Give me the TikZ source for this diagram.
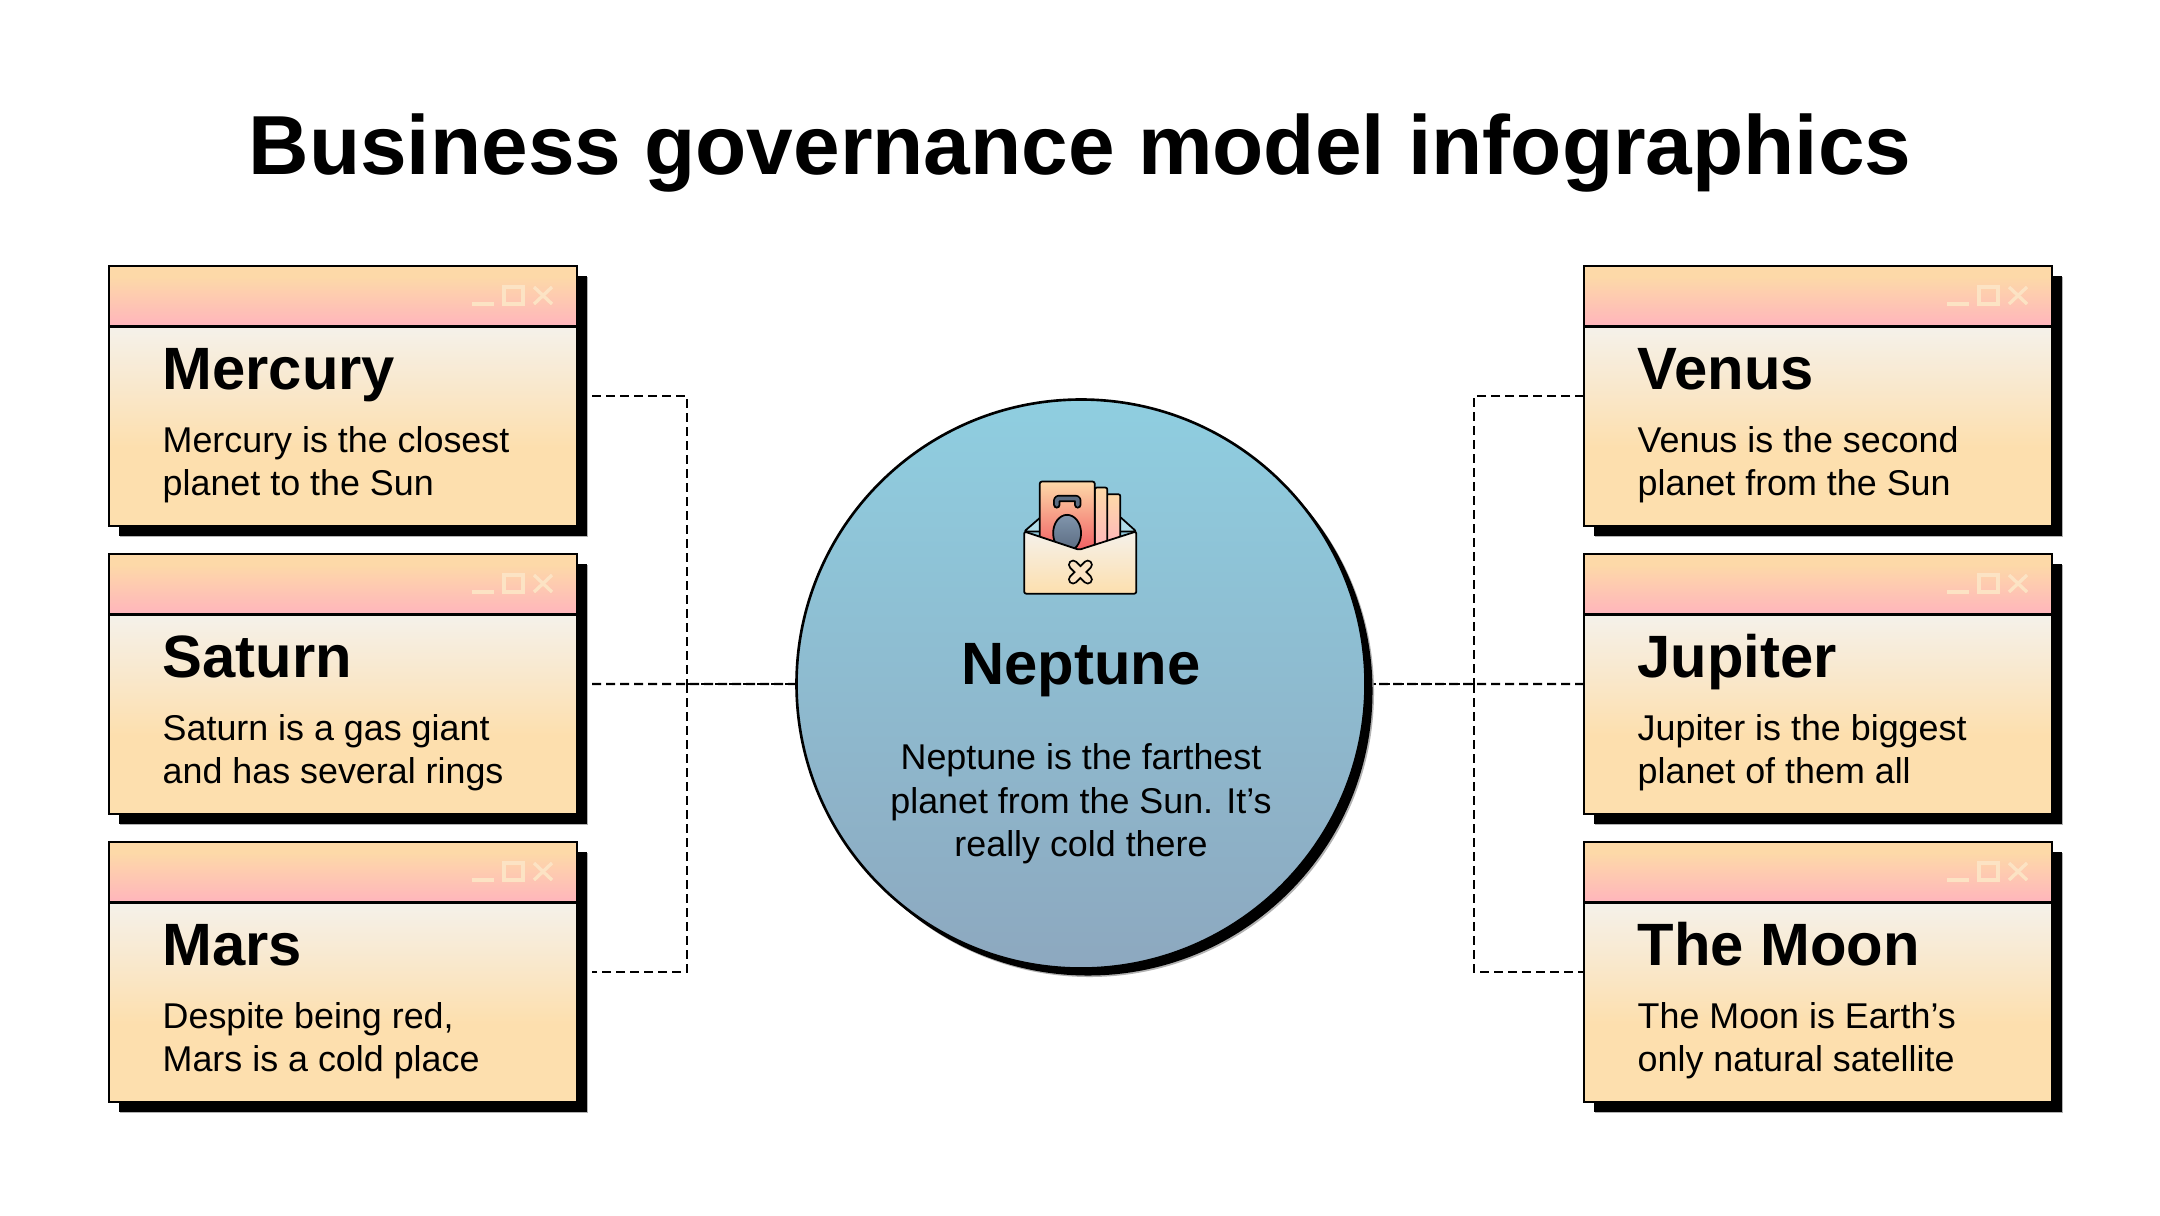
\documentclass[tikz,border=0pt]{standalone}
\usepackage{fontspec}
\setmainfont{Liberation Sans}
\usetikzlibrary{positioning,shadows}

\definecolor{sand}{HTML}{FDDFAE}
\definecolor{cream}{HTML}{F5F1EA}
\definecolor{peach}{HTML}{FDD9A8}
\definecolor{rose}{HTML}{FFB5BC}
\definecolor{coral}{HTML}{F0575F}
\definecolor{skytop}{HTML}{8FCEE0}
\definecolor{skybottom}{HTML}{8DA8BF}
\definecolor{slate}{HTML}{5A6A80}
\definecolor{slatelight}{HTML}{8095AC}
\definecolor{winmark}{HTML}{FCE3C4}

% title bar and body of a window in one vertical shading
\pgfdeclareverticalshading{windowshade}{100bp}{
    color(0bp)=(sand); color(25bp)=(sand); color(40bp)=(sand);
    color(63.35bp)=(cream); color(63.4bp)=(rose);
    color(73bp)=(peach); color(100bp)=(peach)}

\begin{document}
\begin{tikzpicture}[
    windowbox/.style={rectangle, draw=black, line width=0.75pt, minimum width=4.68cm, minimum height=2.6cm,
        inner sep=0pt, outer sep=0pt, shading=windowshade,
        general shadow={fill=black!30, shadow xshift=0.11cm, shadow yshift=-0.11cm},
        general shadow={fill=black, shadow xshift=0.095cm, shadow yshift=-0.095cm}},
    globe/.style={circle, draw=black, line width=0.75pt, minimum size=5.69cm, inner sep=0pt, outer sep=0pt,
        top color=skytop, bottom color=skybottom,
        general shadow={fill=black!30, shadow xshift=0.085cm, shadow yshift=-0.085cm},
        general shadow={fill=black, shadow xshift=0.07cm, shadow yshift=-0.07cm}},
    headline/.style={font=\fontsize{23.85}{28}\selectfont\bfseries, inner sep=0pt},
    planetname/.style={font=\fontsize{17}{20}\selectfont\bfseries, inner sep=0pt, text height=0.44cm, text depth=0.13cm},
    planettext/.style={font=\fontsize{10.2}{12.35}\selectfont, inner sep=0pt, align=left, execute at begin node=\strut},
    barline/.style={black, line width=0.75pt},
    winmarks/.style={winmark, line width=0.95pt},
    link/.style={black, line width=0.62pt, dash pattern=on 0.09cm off 0.05cm}
]
    \useasboundingbox (0,0) rectangle (21.6,-12.15);

    \node[headline, anchor=base] (headline) at (10.8,-1.74) {Business governance model infographics};

    % left column
    \node[windowbox, anchor=north west] (mercury) at (1.09,-2.66) {};
    \node[windowbox, below=0.28cm of mercury] (saturn) {};
    \node[windowbox, below=0.28cm of saturn] (mars) {};

    % right column
    \node[windowbox, anchor=north west] (venus) at (15.84,-2.66) {};
    \node[windowbox, below=0.28cm of venus] (jupiter) {};
    \node[windowbox, below=0.28cm of jupiter] (moon) {};

    \node[globe] (neptune) at (10.81,-6.84) {};

    % title bar line and the three window marks
    \foreach \planet in {mercury,saturn,mars,venus,jupiter,moon} {
        \draw[barline] ([yshift=-0.605cm]\planet.north west) -- ([yshift=-0.605cm]\planet.north east);
        \draw[winmarks] ([shift={(-1.05,-0.38)}]\planet.north east) -- ++(0.22,0);
        \draw[winmarks] ([shift={(-0.73,-0.21)}]\planet.north east) rectangle ++(0.19,-0.17);
        \draw[winmarks] ([shift={(-0.43,-0.21)}]\planet.north east) -- ++(0.18,-0.17);
        \draw[winmarks] ([shift={(-0.25,-0.21)}]\planet.north east) -- ++(-0.18,-0.17);
    }

    \node[planetname, below right=0.79cm and 0.53cm of mercury.north west] (mercuryname) {Mercury};
    \node[planettext, below=0.22cm of mercuryname.south west, anchor=north west] (mercurytext) {Mercury is the closest\\planet to the Sun};

    \node[planetname, below right=0.79cm and 0.53cm of saturn.north west] (saturnname) {Saturn};
    \node[planettext, below=0.22cm of saturnname.south west, anchor=north west] (saturntext) {Saturn is a gas giant\\and has several rings};

    \node[planetname, below right=0.79cm and 0.53cm of mars.north west] (marsname) {Mars};
    \node[planettext, below=0.22cm of marsname.south west, anchor=north west] (marstext) {Despite being red,\\Mars is a cold place};

    \node[planetname, below right=0.79cm and 0.53cm of venus.north west] (venusname) {Venus};
    \node[planettext, below=0.22cm of venusname.south west, anchor=north west] (venustext) {Venus is the second\\planet from the Sun};

    \node[planetname, below right=0.79cm and 0.53cm of jupiter.north west] (jupitername) {Jupiter};
    \node[planettext, below=0.22cm of jupitername.south west, anchor=north west] (jupitertext) {Jupiter is the biggest\\planet of them all};

    \node[planetname, below right=0.79cm and 0.53cm of moon.north west] (moonname) {The Moon};
    \node[planettext, below=0.22cm of moonname.south west, anchor=north west] (moontext) {The Moon is Earth’s\\only natural satellite};

    \node[planetname, above=-0.14cm of neptune.center] (neptunename) {Neptune};
    \node[planettext, align=center, below=0.45cm of neptunename] (neptunetext) {Neptune is the farthest\\planet from the Sun. It’s\\really cold there};

    % dashed connectors
    \coordinate (leftjoin) at (6.87,-6.84);
    \coordinate (rightjoin) at (14.74,-6.84);
    \draw[link, shorten <=0.15cm] (mercury.east) -| (leftjoin);
    \draw[link, shorten >=0.15cm] (leftjoin) |- (mars.east);
    \draw[link, shorten <=0.15cm] (saturn.east) -- (neptune.west);
    \draw[link] (leftjoin) -- (neptune.west);
    \draw[link] (venus.west) -| (rightjoin);
    \draw[link] (rightjoin) |- (moon.west);
    \draw[link, shorten >=0.08cm] (jupiter.west) -- (neptune.east);
    \draw[link, shorten >=0.08cm] (rightjoin) -- (neptune.east);

    % envelope with the cards
    \begin{scope}[shift={(9.6,-4.4)}, x=0.003333cm, y=-0.003333cm, line width=0.5pt, rounded corners=0.02cm, line join=round]
        \draw[fill=skytop!70!white] (193,275) -- (245,230) -- (480,230) -- (530,275) -- cycle;
        \draw[top color=peach, bottom color=rose] (440,163) rectangle (482,320);
        \draw[top color=peach, bottom color=rose] (405,143) rectangle (443,330);
        \draw[top color=peach, bottom color=coral] (240,125) rectangle (405,345);
        \draw[line width=2.1pt, line cap=round, black] (291,195) -- (291,176) -- (354,176) -- (354,195);
        \draw[line width=1.1pt, line cap=round, slate] (291,195) -- (291,176) -- (354,176) -- (354,195);
        \draw[top color=slatelight, bottom color=slate] (322,280) ellipse [x radius=42, y radius=55];
        \draw[top color=cream, bottom color=sand] (193,275) -- (358,330) -- (530,275) -- (530,462) -- (193,462) -- cycle;
        \draw[line width=2.9pt, line cap=round, black] (340,375) -- (384,419) (384,375) -- (340,419);
        \draw[line width=1.8pt, line cap=round, winmark] (340,375) -- (384,419) (384,375) -- (340,419);
    \end{scope}
\end{tikzpicture}
\end{document}
